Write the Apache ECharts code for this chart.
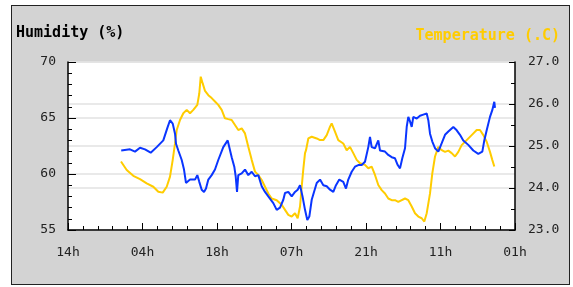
<!DOCTYPE html>
<html>
<head>
<meta charset="utf-8">
<script src="https://cdn.jsdelivr.net/npm/echarts@6/dist/echarts.min.js"></script>
<style>
  body { margin: 0; background: #ffffff; }
  #frame {
    position: absolute; left: 11px; top: 5px; width: 557px; height: 278px;
    background: #d3d3d3; border: 1px solid #222;
  }
  #chart { position: absolute; left: 0; top: 0; width: 573px; height: 287px; }
</style>
</head>
<body>
<div id="frame"></div>
<div id="chart"></div>
<script>
// hours since the first tick (14h)
const xTickLabels = ["14h", "04h", "18h", "07h", "21h", "11h", "01h"];

const humidity = [
  [10.0, 62.1], [11.65, 62.2], [12.59, 62.0], [13.53, 62.35], [14.47, 62.2], [15.54, 61.9],
  [16.67, 62.4], [17.91, 63.0], [18.66, 64.1], [19.17, 64.8], [19.68, 64.5], [20.11, 63.6],
  [20.30, 62.7], [20.73, 62.1], [21.37, 61.25], [21.80, 60.4], [22.17, 59.2], [22.93, 59.5],
  [23.87, 59.5], [24.30, 59.9], [24.67, 59.3], [25.12, 58.6], [25.56, 58.4], [25.93, 58.7],
  [26.37, 59.5], [27.00, 59.9], [27.62, 60.4], [28.24, 61.25], [29.18, 62.4], [30.01, 63.0],
  [30.26, 62.9], [30.76, 61.5], [31.25, 60.65], [31.51, 59.8], [31.76, 58.4], [32.00, 59.9],
  [32.64, 60.05], [33.26, 60.4], [33.88, 59.9], [34.52, 60.2], [35.14, 59.8], [35.76, 59.9],
  [36.40, 58.9], [37.02, 58.4], [37.64, 58.0], [38.58, 57.4], [39.22, 56.8], [39.84, 57.0],
  [40.46, 57.7], [40.78, 58.3], [41.40, 58.4], [42.04, 58.0], [42.66, 58.4], [43.16, 58.6],
  [43.60, 59.0], [44.07, 58.0], [44.54, 56.8], [44.97, 55.9], [45.35, 56.2], [45.80, 57.7],
  [46.23, 58.4], [46.74, 59.2], [47.36, 59.5], [47.98, 59.0], [48.62, 58.9], [49.24, 58.6],
  [49.86, 58.4], [50.36, 59.0], [50.98, 59.5], [51.73, 59.3], [52.24, 58.7], [52.67, 59.5],
  [53.31, 60.2], [53.93, 60.65], [54.55, 60.8], [55.19, 60.8], [55.81, 61.1], [56.43, 62.4],
  [56.75, 63.3], [57.07, 62.4], [57.69, 62.3], [58.31, 63.0], [58.63, 62.1], [59.57, 62.0],
  [60.19, 61.7], [60.83, 61.5], [61.45, 61.4], [61.96, 60.8], [62.39, 60.5], [62.82, 61.4],
  [63.33, 62.3], [63.65, 64.2], [63.95, 65.1], [64.27, 64.7], [64.59, 64.2], [64.89, 65.1],
  [65.53, 64.95], [66.15, 65.2], [66.77, 65.3], [67.41, 65.4], [67.71, 64.8], [68.03, 63.6],
  [68.46, 62.9], [68.97, 62.3], [69.59, 62.0], [70.23, 62.75], [70.85, 63.5], [71.47, 63.8],
  [72.41, 64.2], [73.05, 63.9], [73.66, 63.5], [74.28, 63.0], [75.22, 62.6], [76.16, 62.1],
  [77.10, 61.8], [77.86, 62.0], [78.23, 63.0], [78.68, 63.9], [79.30, 65.1], [79.73, 65.7],
  [80.11, 66.45], [80.24, 65.9]
];

const temperature = [
  [9.96, 24.63], [11.03, 24.43], [12.27, 24.29], [13.53, 24.21], [14.79, 24.11], [16.03, 24.03],
  [16.97, 23.91], [17.80, 23.89], [18.55, 24.03], [19.17, 24.27], [19.68, 24.67], [20.11, 25.06],
  [20.43, 25.38], [21.05, 25.62], [21.67, 25.78], [22.31, 25.86], [22.93, 25.78], [23.55, 25.86],
  [24.30, 25.98], [24.67, 26.25], [24.94, 26.65], [25.31, 26.49], [25.75, 26.31], [26.37, 26.21],
  [27.00, 26.14], [27.62, 26.06], [28.24, 25.98], [28.88, 25.86], [29.50, 25.66], [30.12, 25.64],
  [30.76, 25.62], [31.38, 25.50], [32.00, 25.38], [32.64, 25.42], [33.26, 25.30], [33.88, 24.98],
  [34.52, 24.67], [35.14, 24.39], [35.76, 24.31], [36.40, 24.19], [37.02, 24.03], [37.64, 23.87],
  [38.28, 23.75], [39.22, 23.71], [40.16, 23.60], [40.78, 23.48], [41.40, 23.36], [42.04, 23.32],
  [42.66, 23.40], [43.16, 23.28], [43.60, 23.56], [43.92, 24.03], [44.22, 24.45], [44.54, 24.83],
  [44.73, 24.90], [45.16, 25.18], [45.80, 25.22], [46.74, 25.18], [47.36, 25.14], [47.98, 25.14],
  [48.62, 25.26], [49.24, 25.46], [49.55, 25.54], [50.17, 25.34], [50.79, 25.14], [51.73, 25.06],
  [52.37, 24.90], [52.99, 24.98], [53.61, 24.83], [54.25, 24.67], [54.87, 24.59], [55.81, 24.55],
  [56.43, 24.47], [57.07, 24.51], [57.69, 24.31], [58.31, 24.07], [58.95, 23.95], [59.57, 23.87],
  [60.19, 23.75], [60.83, 23.71], [61.45, 23.71], [62.07, 23.67], [62.39, 23.71], [63.33, 23.75],
  [63.95, 23.71], [64.59, 23.56], [65.21, 23.40], [65.83, 23.32], [66.47, 23.28], [66.96, 23.20],
  [67.41, 23.40], [68.03, 23.87], [68.46, 24.35], [68.97, 24.75], [69.59, 24.98], [70.23, 24.90],
  [70.85, 24.86], [71.47, 24.89], [72.10, 24.83], [72.73, 24.75], [73.35, 24.86], [73.98, 25.02],
  [74.92, 25.14], [75.86, 25.26], [76.80, 25.38], [77.42, 25.38], [78.05, 25.26], [78.68, 25.10],
  [79.30, 24.86], [79.73, 24.67], [80.11, 24.51]
];

const mono = "'DejaVu Sans Mono', monospace";
const chart = echarts.init(document.getElementById("chart"));
chart.setOption({
  animation: false,
  backgroundColor: "transparent",
  title: [
    {
      text: "Humidity (%)",
      left: 16, top: 26, padding: 0,
      textStyle: { fontFamily: mono, fontWeight: "bold", fontSize: 15, color: "#000" }
    },
    {
      text: "Temperature (.C)",
      right: 13, top: 29, padding: 0,
      textStyle: { fontFamily: mono, fontWeight: "bold", fontSize: 15, color: "#ffcc00" }
    }
  ],
  grid: {
    left: 68, right: 58, top: 62, bottom: 57,
    show: true, backgroundColor: "#ffffff", borderWidth: 0
  },
  xAxis: {
    type: "value",
    min: 0, max: 84, interval: 14,
    axisLine: { lineStyle: { color: "#000", width: 1.5 } },
    axisTick: { inside: true, length: 7, lineStyle: { color: "#000" } },
    minorTick: { show: true, splitNumber: 5, length: 4, lineStyle: { color: "#000" } },
    splitLine: { show: false },
    axisLabel: {
      margin: 16, fontFamily: mono, fontSize: 13, color: "#222",
      formatter: v => xTickLabels[Math.round(v / 14)]
    }
  },
  yAxis: [
    {
      type: "value",
      min: 55, max: 70, interval: 5,
      axisLine: { show: true, lineStyle: { color: "#000", width: 1.5 } },
      axisTick: { show: true, inside: true, length: 8, lineStyle: { color: "#000" } },
      minorTick: { show: true, splitNumber: 5, length: 4, lineStyle: { color: "#000" } },
      splitLine: { show: true, lineStyle: { color: "#e2e2e2", width: 1.5 } },
      axisLabel: { margin: 12, fontFamily: mono, fontSize: 13, color: "#222" }
    },
    {
      type: "value",
      position: "right",
      min: 23, max: 27, interval: 1,
      axisLine: { show: true, lineStyle: { color: "#000", width: 1.5 } },
      axisTick: { show: true, inside: true, length: 6, lineStyle: { color: "#000" } },
      minorTick: { show: true, splitNumber: 2, length: 4, lineStyle: { color: "#000" } },
      splitLine: { show: true, lineStyle: { color: "#e2e2e2", width: 1.5 } },
      axisLabel: {
        margin: 13, fontFamily: mono, fontSize: 13, color: "#222",
        formatter: v => v.toFixed(1)
      }
    }
  ],
  series: [
    {
      name: "Temperature",
      type: "line",
      yAxisIndex: 1,
      data: temperature,
      showSymbol: false,
      lineStyle: { color: "#ffcc00", width: 2 }
    },
    {
      name: "Humidity",
      type: "line",
      yAxisIndex: 0,
      data: humidity,
      showSymbol: false,
      lineStyle: { color: "#0a35ff", width: 2 }
    }
  ]
});
</script>
</body>
</html>
